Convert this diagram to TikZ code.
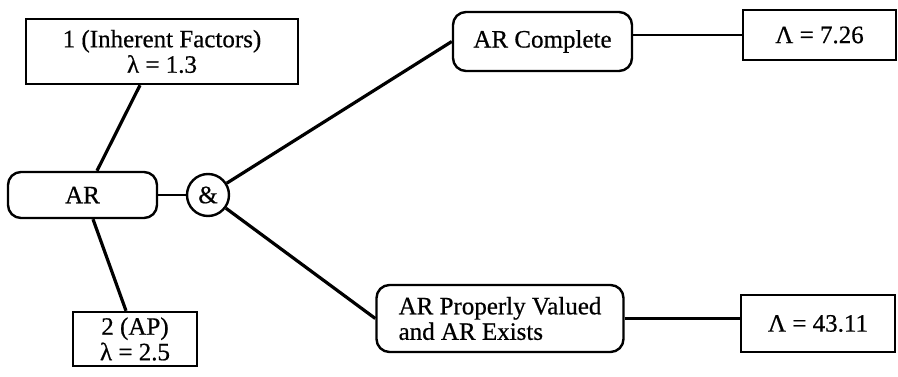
\documentclass[tikz,border=0pt]{standalone}
\usepackage{fontspec}
\setmainfont{Liberation Serif}
\newfontfamily\labelfont{Liberation Serif}[FakeBold=0.6]
\begin{document}
\begin{tikzpicture}[x=1pt,y=-1pt,
  every node/.style={font=\labelfont\fontsize{25}{25.5}\selectfont, inner sep=0pt, align=center},
  sqbox/.style={draw, line width=2.4pt},
  rbox/.style={draw, line width=2.4pt, rounded corners=13pt},
  andgate/.style={draw, circle, line width=2.4pt, minimum size=42pt},
  link/.style={line width=3.2pt},
  flat/.style={line width=2.2pt}]
\useasboundingbox (0,0) rectangle (898,377);

% left side: the AR event and its two inputs
\node[sqbox, minimum width=272pt, minimum height=65pt] (f1) at (162,51.5)
  {1 (Inherent Factors)\\ λ = 1.3};
\node[rbox, minimum width=149pt, minimum height=46pt] (ar) at (82.5,195) {AR};
\node[sqbox, minimum width=124pt, minimum height=54pt] (f2) at (135,339)
  {2 (AP)\\ λ = 2.5};
\node[andgate] (amp) at (208,195) {\&};

% right side: the two conjoined outcomes and their rates
\node[rbox, minimum width=179pt, minimum height=59pt] (arc) at (542.5,41.5) {AR Complete};
\node[sqbox, minimum width=153pt, minimum height=50pt] (lam1) at (819.5,35) {Λ = 7.26};
\node[rbox, minimum width=247pt, minimum height=67pt, align=left] (arp) at (500,318.5)
  {AR Properly Valued\\ and AR Exists};
\node[sqbox, minimum width=154pt, minimum height=57pt] (lam2) at (818,323.5) {Λ = 43.11};

% connectors
\draw[link] ([xshift=-22pt]f1.south) -- ([xshift=14.5pt]ar.north);
\draw[link] ([xshift=10.5pt]ar.south) -- ([xshift=-9pt]f2.north);
\draw[flat] (ar.east) -- (amp.west);
\draw[link] (amp) -- (arc.west);
\draw[link] (amp) -- (arp.west);
\draw[flat] (lam1.west) -- (lam1.west -| arc.east);
\draw[flat] (arp.east) -- (arp.east -| lam2.west);
\end{tikzpicture}
\end{document}
